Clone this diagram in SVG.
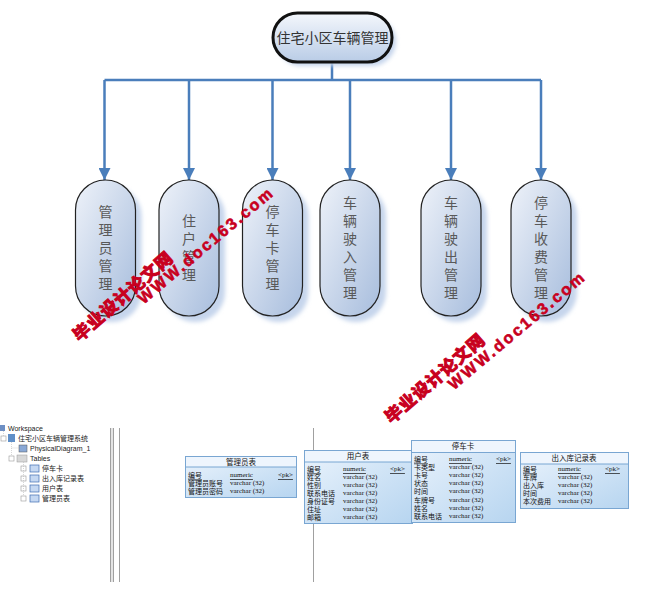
<svg xmlns="http://www.w3.org/2000/svg" width="660" height="605" viewBox="0 0 660 605">
<defs>
<linearGradient id="pg" x1="0" y1="0" x2="1" y2="1">
<stop offset="0" stop-color="#eef2f9"/>
<stop offset="1" stop-color="#a7bddd"/>
</linearGradient>
<linearGradient id="tg" x1="0" y1="0" x2="0" y2="1">
<stop offset="0" stop-color="#f4f7fc"/>
<stop offset="1" stop-color="#b9cce6"/>
</linearGradient>
<linearGradient id="bg" x1="0" y1="0" x2="1" y2="1">
<stop offset="0" stop-color="#eaf3fc"/>
<stop offset="1" stop-color="#b7d5f0"/>
</linearGradient>
<filter id="blur" x="-20%" y="-20%" width="140%" height="140%">
<feGaussianBlur stdDeviation="2"/>
</filter>
<marker id="arr" markerWidth="12" markerHeight="12" refX="12" refY="6" orient="auto" markerUnits="userSpaceOnUse">
<path d="M0,0 L12,6 L0,12 Z" fill="#4a7ebb"/>
</marker>
</defs>
<style>
.pill{fill:url(#pg);stroke:#222;stroke-width:1.2}
.shadow{fill:#c6d5ec;filter:url(#blur)}
.pt{font-family:"Liberation Sans","Noto Sans CJK SC",sans-serif;font-size:14px;fill:#595959;text-anchor:middle;dominant-baseline:central}
.con{fill:none;stroke:#4a7ebb;stroke-width:2.5}
.tb{fill:url(#bg);stroke:#79a6d2;stroke-width:1}
.th{fill:#eef5fd;stroke:#79a6d2;stroke-width:1}
.tt{font-family:"Liberation Sans","Noto Sans CJK SC",sans-serif;font-size:7.5px;fill:#111;text-anchor:middle;dominant-baseline:central}
.tn{font-family:"Liberation Sans","Noto Sans CJK SC",sans-serif;font-size:7px;fill:#111;dominant-baseline:central}
.ty{font-family:"Liberation Serif",serif;font-size:7px;fill:#111;dominant-baseline:central}
.tr{font-family:"Liberation Sans","Noto Sans CJK SC",sans-serif;font-size:7px;fill:#222;dominant-baseline:central}
.wm{font-family:"Liberation Sans","Noto Sans CJK SC",sans-serif;font-weight:bold;font-size:17px;fill:#c8001e;stroke:#c8001e;stroke-width:1.1;text-anchor:middle;dominant-baseline:central}
.ww{font-family:"Liberation Sans",sans-serif;font-weight:bold;font-size:16px;fill:#c8001e;stroke:#c8001e;stroke-width:0.6;text-anchor:middle;dominant-baseline:central}
.sep{stroke:#a0a0a0;stroke-width:1}
</style>

<g id="connectors">
<path class="con" d="M332,62 V80 M104.5,80 H541"/>
<path class="con" d="M104.5,80 V180" marker-end="url(#arr)"/>
<path class="con" d="M189,80 V180" marker-end="url(#arr)"/>
<path class="con" d="M272.5,80 V180" marker-end="url(#arr)"/>
<path class="con" d="M350,80 V180" marker-end="url(#arr)"/>
<path class="con" d="M451,80 V180" marker-end="url(#arr)"/>
<path class="con" d="M541,80 V180" marker-end="url(#arr)"/>
</g>

<g id="root">
<rect x="277" y="17" width="119" height="49" rx="24.5" class="shadow"/>
<rect x="273" y="13" width="119" height="49" rx="24.5" fill="url(#tg)" stroke="#111" stroke-width="3"/>
<text x="332.5" y="38" font-family="Liberation Sans,Noto Sans CJK SC,sans-serif" font-size="14px" fill="#333" text-anchor="middle" dominant-baseline="central">住宅小区车辆管理</text>
</g>

<g id="n1">
<rect x="81.5" y="186" width="60" height="136" rx="30" class="shadow"/>
<rect x="75.5" y="180" width="60" height="136" rx="30" class="pill"/>
<text class="pt"><tspan x="105.5" y="212">管</tspan><tspan x="105.5" y="230">理</tspan><tspan x="105.5" y="248">员</tspan><tspan x="105.5" y="266">管</tspan><tspan x="105.5" y="284">理</tspan></text>
</g>
<g id="n2">
<rect x="165" y="186" width="60" height="136" rx="30" class="shadow"/>
<rect x="159" y="180" width="60" height="136" rx="30" class="pill"/>
<text class="pt"><tspan x="189" y="221">住</tspan><tspan x="189" y="239">户</tspan><tspan x="189" y="257">管</tspan><tspan x="189" y="275">理</tspan></text>
</g>
<g id="n3">
<rect x="248.5" y="186" width="60" height="136" rx="30" class="shadow"/>
<rect x="242.5" y="180" width="60" height="136" rx="30" class="pill"/>
<text class="pt"><tspan x="272.5" y="212">停</tspan><tspan x="272.5" y="230">车</tspan><tspan x="272.5" y="248">卡</tspan><tspan x="272.5" y="266">管</tspan><tspan x="272.5" y="284">理</tspan></text>
</g>
<g id="n4">
<rect x="326" y="186" width="60" height="136" rx="30" class="shadow"/>
<rect x="320" y="180" width="60" height="136" rx="30" class="pill"/>
<text class="pt"><tspan x="350" y="203">车</tspan><tspan x="350" y="221">辆</tspan><tspan x="350" y="239">驶</tspan><tspan x="350" y="257">入</tspan><tspan x="350" y="275">管</tspan><tspan x="350" y="293">理</tspan></text>
</g>
<g id="n5">
<rect x="427" y="186" width="60" height="136" rx="30" class="shadow"/>
<rect x="421" y="180" width="60" height="136" rx="30" class="pill"/>
<text class="pt"><tspan x="451" y="203">车</tspan><tspan x="451" y="221">辆</tspan><tspan x="451" y="239">驶</tspan><tspan x="451" y="257">出</tspan><tspan x="451" y="275">管</tspan><tspan x="451" y="293">理</tspan></text>
</g>
<g id="n6">
<rect x="517" y="186" width="60" height="136" rx="30" class="shadow"/>
<rect x="511" y="180" width="60" height="136" rx="30" class="pill"/>
<text class="pt"><tspan x="541" y="203">停</tspan><tspan x="541" y="221">车</tspan><tspan x="541" y="239">收</tspan><tspan x="541" y="257">费</tspan><tspan x="541" y="275">管</tspan><tspan x="541" y="293">理</tspan></text>
</g>

<g id="tree">
<rect x="0" y="425" width="5" height="6" fill="#6d8fc4"/>
<text class="tr" x="8" y="428" fill="#666">Workspace</text>
<rect x="1" y="436" width="5" height="5" fill="#fff" stroke="#999" stroke-width="0.6"/>
<rect x="8" y="434" width="7" height="8" fill="#5f8fc8"/>
<text class="tr" x="18" y="438">住宅小区车辆管理系统</text>
<rect x="19" y="445" width="8" height="7" fill="#8aa9d6" stroke="#555" stroke-width="0.5"/>
<text class="tr" x="30" y="448">PhysicalDiagram_1</text>
<rect x="9" y="456" width="5" height="5" fill="#fff" stroke="#999" stroke-width="0.6"/>
<rect x="17" y="455" width="10" height="7" fill="#d8d8d8" stroke="#999" stroke-width="0.5"/>
<text class="tr" x="30" y="458">Tables</text>
<g fill="#fff" stroke="#999" stroke-width="0.6">
<rect x="21" y="466" width="5" height="5"/><rect x="21" y="476" width="5" height="5"/><rect x="21" y="486" width="5" height="5"/><rect x="21" y="496" width="5" height="5"/>
</g>
<g fill="#c5d8f2" stroke="#3f6db3" stroke-width="0.7">
<rect x="30" y="465" width="9" height="7"/><rect x="30" y="475" width="9" height="7"/><rect x="30" y="485" width="9" height="7"/><rect x="30" y="495" width="9" height="7"/>
</g>
<text class="tr" x="42" y="468">停车卡</text>
<text class="tr" x="42" y="478">出入库记录表</text>
<text class="tr" x="42" y="488">用户表</text>
<text class="tr" x="42" y="498">管理员表</text>
<path d="M3.5,431 V436 M11.5,442 V456 M11.5,448 H19 M23.5,462 V496" stroke="#bbb" stroke-width="0.6" stroke-dasharray="1,1" fill="none"/>
</g>

<g id="panels">
<rect x="110" y="428" width="4" height="154" fill="#e4e4e4"/>
<line class="sep" x1="110.5" y1="428" x2="110.5" y2="582"/>
<line class="sep" x1="113.5" y1="428" x2="113.5" y2="582" stroke="#c8c8c8"/>
<line class="sep" x1="119.5" y1="428" x2="119.5" y2="582" stroke="#888"/>
<line class="sep" x1="313.5" y1="428" x2="313.5" y2="582" stroke="#888"/>
</g>

<g id="t_admin">
<rect class="tb" x="185.5" y="456.5" width="111" height="41"/>
<rect class="th" x="185.5" y="456.5" width="111" height="10.5"/>
<text class="tt" x="241" y="462">管理员表</text>
<text class="tn" x="188" y="475" text-decoration="underline">编号</text>
<text class="tn" x="188" y="483">管理员账号</text>
<text class="tn" x="188" y="491">管理员密码</text>
<text class="ty" x="230" y="475" text-decoration="underline">numeric</text>
<text class="ty" x="230" y="483">varchar (32)</text>
<text class="ty" x="230" y="491">varchar (32)</text>
<text class="ty" x="278" y="475" text-decoration="underline">&lt;pk&gt;</text>
</g>

<g id="t_user">
<rect class="tb" x="304.5" y="450.5" width="108" height="73"/>
<rect class="th" x="304.5" y="450.5" width="108" height="11.5"/>
<text class="tt" x="358" y="456.5">用户表</text>
<text class="tn" x="307" y="469" text-decoration="underline">编号</text>
<text class="tn" x="307" y="477">姓名</text>
<text class="tn" x="307" y="485">性别</text>
<text class="tn" x="307" y="493">联系电话</text>
<text class="tn" x="307" y="501">身份证号</text>
<text class="tn" x="307" y="509">住址</text>
<text class="tn" x="307" y="517">邮箱</text>
<text class="ty" x="343" y="469" text-decoration="underline">numeric</text>
<text class="ty" x="343" y="477">varchar (32)</text>
<text class="ty" x="343" y="485">varchar (32)</text>
<text class="ty" x="343" y="493">varchar (32)</text>
<text class="ty" x="343" y="501">varchar (32)</text>
<text class="ty" x="343" y="509">varchar (32)</text>
<text class="ty" x="343" y="517">varchar (32)</text>
<text class="ty" x="390" y="469" text-decoration="underline">&lt;pk&gt;</text>
</g>

<g id="t_card">
<rect class="tb" x="411.5" y="440.5" width="104" height="82"/>
<rect class="th" x="411.5" y="440.5" width="104" height="12"/>
<text class="tt" x="463" y="446.5">停车卡</text>
<text class="tn" x="414" y="459" text-decoration="underline">编号</text>
<text class="tn" x="414" y="467">卡类型</text>
<text class="tn" x="414" y="475">卡号</text>
<text class="tn" x="414" y="483">状态</text>
<text class="tn" x="414" y="491">时间</text>
<text class="tn" x="414" y="500">车牌号</text>
<text class="tn" x="414" y="508">姓名</text>
<text class="tn" x="414" y="516">联系电话</text>
<text class="ty" x="449" y="459" text-decoration="underline">numeric</text>
<text class="ty" x="449" y="467">varchar (32)</text>
<text class="ty" x="449" y="475">varchar (32)</text>
<text class="ty" x="449" y="483">varchar (32)</text>
<text class="ty" x="449" y="491">varchar (32)</text>
<text class="ty" x="449" y="500">varchar (32)</text>
<text class="ty" x="449" y="508">varchar (32)</text>
<text class="ty" x="449" y="516">varchar (32)</text>
<text class="ty" x="496" y="459" text-decoration="underline">&lt;pk&gt;</text>
</g>

<g id="t_record">
<rect class="tb" x="520.5" y="452.5" width="108" height="56"/>
<rect class="th" x="520.5" y="452.5" width="108" height="11.5"/>
<text class="tt" x="574" y="458">出入库记录表</text>
<text class="tn" x="523" y="469" text-decoration="underline">编号</text>
<text class="tn" x="523" y="477">车牌</text>
<text class="tn" x="523" y="485">出入库</text>
<text class="tn" x="523" y="493">时间</text>
<text class="tn" x="523" y="501">本次费用</text>
<text class="ty" x="558" y="469" text-decoration="underline">numeric</text>
<text class="ty" x="558" y="477">varchar (32)</text>
<text class="ty" x="558" y="485">varchar (32)</text>
<text class="ty" x="558" y="493">varchar (32)</text>
<text class="ty" x="558" y="501">varchar (32)</text>
<text class="ty" x="605" y="469" text-decoration="underline">&lt;pk&gt;</text>
</g>

<g id="watermark1">
<text class="wm" transform="translate(123,297) rotate(-41)" textLength="125" lengthAdjust="spacing">毕业设计论文网</text>
<text class="ww" transform="translate(205,246) rotate(-40)" textLength="170" lengthAdjust="spacing">WWW.doc163.com</text>
</g>
<g id="watermark2">
<text class="wm" transform="translate(435,379) rotate(-41)" textLength="125" lengthAdjust="spacing">毕业设计论文网</text>
<text class="ww" transform="translate(516,331) rotate(-40)" textLength="172" lengthAdjust="spacing">WWW.doc163.com</text>
</g>
</svg>
